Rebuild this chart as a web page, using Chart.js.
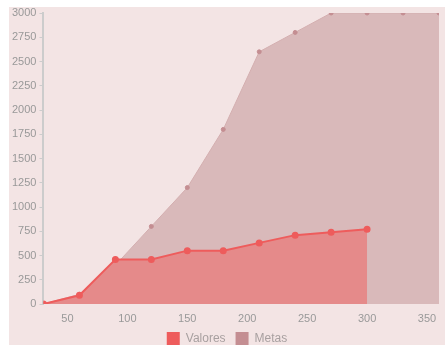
<!DOCTYPE html>
<html>
<head>
<meta charset="utf-8">
<script src="https://cdn.jsdelivr.net/npm/chart.js@4"></script>
<style>
html,body{margin:0;padding:0;background:#ffffff;}
#c{position:absolute;left:9px;top:7px;background:#f3e4e4;}
</style>
</head>
<body>
<canvas id="c" width="436" height="338"></canvas>
<script>
const xValues = [30, 60, 90, 120, 150, 180, 210, 240, 270, 300, 330, 360];
const valores = [0, 90, 460, 460, 550, 550, 630, 710, 740, 770];
const metas = [0, 100, 400, 800, 1200, 1800, 2600, 2800, 3000, 3000, 3000, 3000];
const xTicks = [50, 100, 150, 200, 250, 300, 350];
const seriesNames = ['Valores', 'Metas'];

const toPts = (vals) => vals.map((v, i) => ({x: xValues[i], y: v}));

new Chart(document.getElementById('c'), {
  type: 'line',
  data: {
    datasets: [
      {
        label: seriesNames[0],
        data: toPts(valores),
        borderColor: '#ee5c5c',
        backgroundColor: '#e58a8a',
        pointBackgroundColor: '#ee5c5c',
        pointBorderColor: '#ee5c5c',
        pointRadius: 2.5,
        borderWidth: 2,
        fill: 'origin',
        tension: 0
      },
      {
        label: seriesNames[1],
        data: toPts(metas),
        borderColor: '#d4afb0',
        backgroundColor: '#d9b9ba',
        pointBackgroundColor: '#c48e92',
        pointBorderColor: '#c48e92',
        pointRadius: 2,
        borderWidth: 1,
        fill: 'origin',
        tension: 0
      }
    ]
  },
  options: {
    responsive: false,
    animation: false,
    layout: {padding: 0},
    plugins: {
      legend: {
        position: 'bottom',
        maxHeight: 23,
        labels: {
          boxWidth: 13,
          boxHeight: 13,
          padding: 10,
          color: '#a8a0a0',
          font: {family: 'Liberation Sans', size: 12},
          generateLabels: (chart) => chart.data.datasets.map((d, i) => ({
            text: d.label,
            fillStyle: i === 0 ? '#ee5c5c' : '#c48e92',
            strokeStyle: i === 0 ? '#ee5c5c' : '#c48e92',
            lineWidth: 0,
            fontColor: '#a8a0a0',
            datasetIndex: i
          }))
        }
      },
      tooltip: {enabled: false}
    },
    scales: {
      x: {
        type: 'linear',
        min: 30,
        max: 360,
        afterBuildTicks: (s) => { s.ticks = xTicks.map(v => ({value: v})); },
        afterFit: (s) => { s.height = 18; },
        grid: {display: false, drawTicks: false},
        border: {display: false},
        ticks: {color: '#999', font: {family: 'Liberation Sans', size: 11}, padding: 8, callback: (v) => String(v)}
      },
      y: {
        min: 0,
        max: 3000,
        ticks: {stepSize: 250, color: '#999', font: {family: 'Liberation Sans', size: 11, lineHeight: 0.4}, padding: 3, callback: (v) => String(v)},
        grid: {drawOnChartArea: false, tickLength: 4, color: '#ccc'},
        border: {display: true, color: '#ccc', width: 2}
      }
    }
  }
});
</script>
</body>
</html>
